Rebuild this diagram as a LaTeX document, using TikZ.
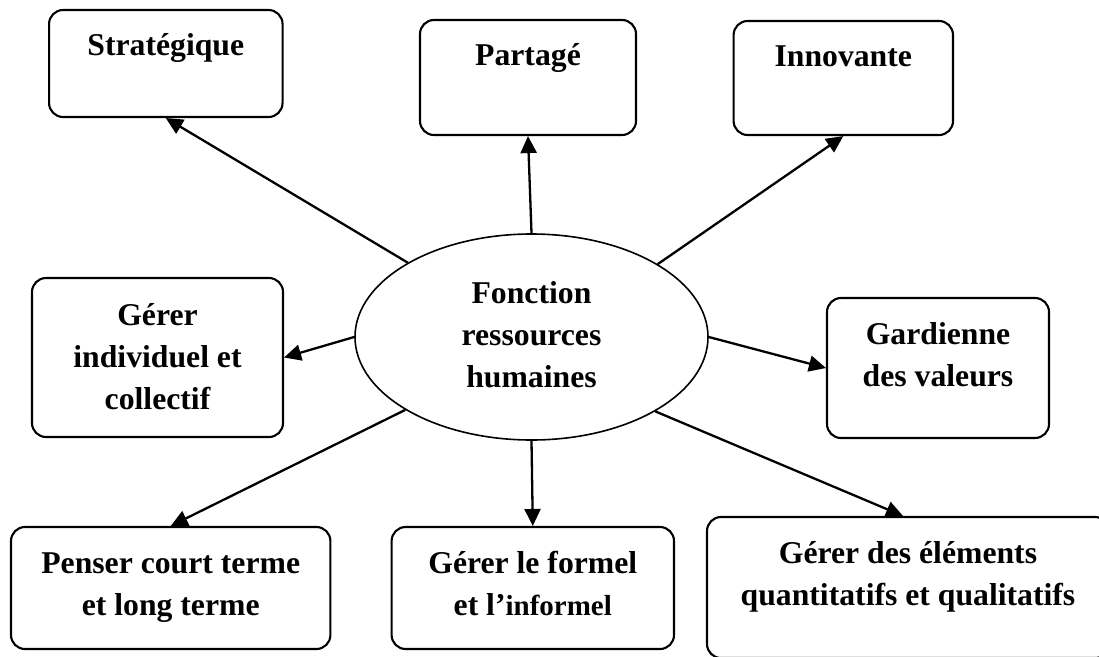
\documentclass[tikz,border=0pt]{standalone}
\usepackage{fontspec}
\setmainfont{Liberation Serif}
\usetikzlibrary{arrows.meta,shapes.geometric}
\begin{document}
\begin{tikzpicture}[x=1pt,y=-1pt,
  txt/.style={font=\bfseries\fontsize{31.7}{42}\selectfont},
  box/.style={txt, draw, line width=2.1pt, rounded corners=14pt,
    inner sep=0pt, align=center},
  hub/.style={txt, draw, ellipse, line width=1.6pt, inner sep=0pt,
    minimum width=353pt, minimum height=206pt, align=center,
    text height=110pt, text depth=10pt},
  link/.style={-{Triangle[length=17pt,width=16pt]}, line width=2.3pt}]

% page frame
\path[use as bounding box, fill=white] (0,0) rectangle (1099,656);
\clip (0,0) rectangle (1099,656);

% central function
\node[hub] (fr) at (531.5,337) {Fonction\\ressources\\humaines};

% surrounding roles (text height/depth measured from the last line's baseline)
\node[box, minimum width=233.5pt, text height=45pt, text depth=62pt]
  (strat) at (165.8,63.5) {Stratégique};
\node[box, minimum width=216pt, text height=45pt, text depth=70pt]
  (part) at (528,77.5) {Partagé};
\node[box, minimum width=219.4pt, text height=45pt, text depth=69pt]
  (innov) at (843.3,78) {Innovante};
\node[box, minimum width=251pt, text height=131pt, text depth=28pt]
  (indiv) at (157.5,357.5) {Gérer\\individuel et\\collectif};
\node[box, minimum width=222pt, text height=88pt, text depth=52pt]
  (gard) at (938,368) {Gardienne\\des valeurs};
\node[box, minimum width=319.4pt, text height=88pt, text depth=34pt]
  (penser) at (170.7,588) {Penser court terme\\et long terme};
\node[box, minimum width=282.4pt, text height=88pt, text depth=34pt]
  (formel) at (532.8,588) {Gérer le formel\\et l’{\fontsize{29}{42}\selectfont informel}};
\node[box, minimum width=402pt, text height=88pt, text depth=53pt]
  (elem) at (908,587.5) {Gérer des éléments\\quantitatifs et qualitatifs};

% connectors
\draw[link] (fr.149.5) -- (strat.south);
\draw[link] (fr.north) -- (part.south);
\draw[link] (fr.30.5) -- (innov.south);
\draw[link] (fr.west) -- (indiv.east);
\draw[link] (fr.east) -- (gard.west);
\draw[link] (fr.210.5) -- (penser.north);
\draw[link] (fr.south) -- (formel.north);
\draw[link] (fr.329.5) -- ([xshift=-5pt]elem.north);
\end{tikzpicture}
\end{document}
